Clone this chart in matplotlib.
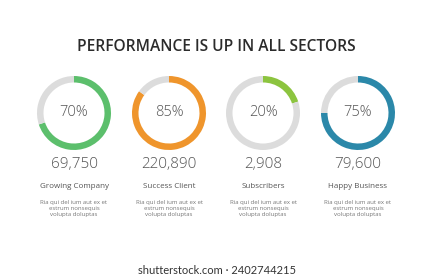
import matplotlib
matplotlib.use("Agg")
import matplotlib.pyplot as plt

title = "PERFORMANCE IS UP IN ALL SECTORS"
percents = [70, 85, 20, 75]
totals = ["69,750", "220,890", "2,908", "79,600"]
labels = ["Growing Company", "Success Client", "Subscribers", "Happy Business"]
desc = "Ria qui del ium aut ex et\nestrum nonsequis\nvolupta doluptas"
colors = ["#5cbf6c", "#ef952c", "#8cc43f", "#2b88a9"]
track = "#dcdcdc"
watermark = "shutterstock.com \u00b7 2402744215"

W, H = 433, 280
fig = plt.figure(figsize=(W / 100, H / 100), dpi=100)
ax = fig.add_axes([0, 0, 1, 1])
ax.set_xlim(0, W)
ax.set_ylim(0, H)
ax.axis("off")

def Y(y):
    return H - y

fam = ["Open Sans", "DejaVu Sans"]

ax.text(216.5, Y(47), title, ha="center", va="center", fontsize=11.2,
        fontweight="semibold", color="#2b2b2b", family=fam)

xs = [74, 169, 263, 358]
cy = 113
r = 37
for x, p, t, lab, c in zip(xs, percents, totals, labels, colors):
    ax.pie([p, 100 - p], colors=[c, track], startangle=90, counterclock=False,
           radius=r, center=(x, Y(cy)), frame=True,
           wedgeprops=dict(width=6.5, linewidth=0))
    ax.text(x, Y(cy), f"{p}%", ha="center", va="center", fontsize=10.5,
            fontweight="light", color="#555555", family=fam)
    ax.text(x, Y(165), t, ha="center", va="center", fontsize=11,
            fontweight="light", color="#555555", family=fam)
    ax.text(x, Y(187), lab, ha="center", va="center", fontsize=5.8,
            color="#555555", family=fam)
    ax.text(x, Y(208.5), desc, ha="center", va="center", fontsize=4.3,
            color="#777777", family=fam, linespacing=1.2)

ax.set_xlim(0, W)
ax.set_ylim(0, H)
ax.set_aspect("auto")
ax.axis("off")

ax.text(216.5, Y(270), watermark, ha="center", va="center", fontsize=8,
        color="#333333", family=["Lato", "DejaVu Sans"])

fig.savefig("out.png", dpi=100, facecolor="white")
